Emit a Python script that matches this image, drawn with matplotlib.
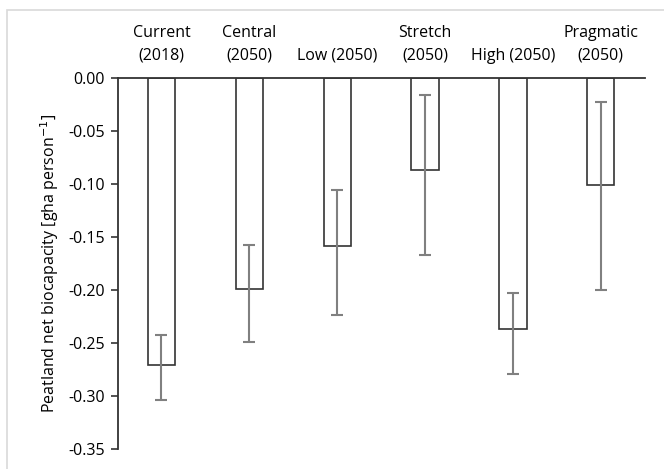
import numpy as np
import matplotlib.pyplot as plt
from matplotlib.patches import Rectangle

# scenario labels and values
categories = ["Current\n(2018)", "Central\n(2050)", "Low (2050)",
              "Stretch\n(2050)", "High (2050)", "Pragmatic\n(2050)"]
values = [-0.271, -0.199, -0.159, -0.087, -0.237, -0.101]
err_upper = [-0.243, -0.158, -0.106, -0.016, -0.203, -0.023]
err_lower = [-0.304, -0.249, -0.224, -0.167, -0.279, -0.200]
yticks = [0.0, -0.05, -0.10, -0.15, -0.20, -0.25, -0.30, -0.35]

plt.rcParams['font.family'] = ['Open Sans', 'DejaVu Sans']
plt.rcParams['font.size'] = 11.5

fig = plt.figure(figsize=(6.64, 4.69), dpi=100)
ax = fig.add_axes([0.177, 0.043, 0.794, 0.791])

# light frame around the whole chart
fig.patches.append(Rectangle((0.011, -0.01), 1.0, 0.989, transform=fig.transFigure,
                             fill=False, edgecolor='#d9d9d9', linewidth=1.2))

x = np.arange(len(categories))
vals = np.array(values)
yerr = np.array([vals - np.array(err_lower), np.array(err_upper) - vals])

ax.bar(x, vals, width=0.31, color='white', edgecolor='#333333', linewidth=1.2, zorder=2)
ax.errorbar(x, vals, yerr=yerr, fmt='none', ecolor='#808080', elinewidth=1.5,
            capsize=4.5, capthick=1.5, zorder=3)

ax.set_xlim(-0.5, len(categories) - 0.5)
ax.set_ylim(-0.35, 0)
ax.set_yticks(yticks)
ax.set_yticklabels([f"{t:.2f}".replace('\u2212', '-') for t in yticks])
ax.set_ylabel("Peatland net biocapacity [gha person$^{-1}$]", fontsize=11.5, labelpad=5)

ax.xaxis.tick_top()
ax.set_xticks(x)
ax.set_xticklabels(categories, linespacing=1.55)
ax.tick_params(axis='x', length=0, pad=10)
ax.tick_params(axis='y', direction='out', length=5, width=1.2, color='#333333', pad=4)

for side in ['right', 'bottom']:
    ax.spines[side].set_visible(False)
for side in ['top', 'left']:
    ax.spines[side].set_color('#333333')
    ax.spines[side].set_linewidth(1.3)

fig.savefig('out.png', dpi=100)
